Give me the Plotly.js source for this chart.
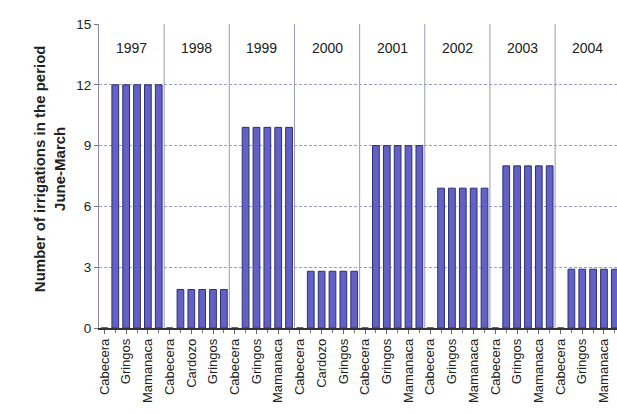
<!DOCTYPE html>
<html>
<head>
<meta charset="utf-8">
<script src="https://cdn.plot.ly/plotly-3.0.1.min.js"></script>
<style>
  html, body { margin: 0; padding: 0; background: #fff; overflow: hidden; }
  #chart { width: 617px; height: 415px; }
</style>
</head>
<body>
<div id="chart"></div>
<script>
// Irrigation seasons (June-March), one block of six site slots per season
const years = ['1997', '1998', '1999', '2000', '2001', '2002', '2003', '2004'];

// Site names printed under every second slot of each season
const siteLabels = [
  ['Cabecera', 'Gringos', 'Mamanaca'],
  ['Cabecera', 'Cardozo', 'Gringos'],
  ['Cabecera', 'Gringos', 'Mamanaca'],
  ['Cabecera', 'Cardozo', 'Gringos'],
  ['Cabecera', 'Gringos', 'Mamanaca'],
  ['Cabecera', 'Gringos', 'Mamanaca'],
  ['Cabecera', 'Gringos', 'Mamanaca'],
  ['Cabecera', 'Gringos', 'Mamanaca']
];

// Number of irrigations per slot, season by season
const irrigations = [
  [0, 12, 12, 12, 12, 12],
  [0, 1.9, 1.9, 1.9, 1.9, 1.9],
  [0, 9.9, 9.9, 9.9, 9.9, 9.9],
  [0, 2.8, 2.8, 2.8, 2.8, 2.8],
  [0, 9, 9, 9, 9, 9],
  [0, 6.9, 6.9, 6.9, 6.9, 6.9],
  [0, 8, 8, 8, 8, 8],
  [0, 2.9, 2.9, 2.9, 2.9, 2.9]
];

const yTicks = [0, 3, 6, 9, 12, 15];

// Flatten seasons into consecutive slot positions
const xs = [], ys = [], tickvals = [], ticktext = [];
let offset = 0;
const groupStarts = [], groupCenters = [];
irrigations.forEach((vals, g) => {
  groupStarts.push(offset);
  groupCenters.push(offset + (vals.length - 1) / 2);
  vals.forEach((v, i) => { xs.push(offset + i); ys.push(v); });
  siteLabels[g].forEach((name, j) => { tickvals.push(offset + 2 * j); ticktext.push(name); });
  offset += vals.length;
});

const gridColor = '#9d9dc0';
const shapes = groupStarts.slice(1).map(s => ({
  type: 'line', xref: 'x', yref: 'y',
  x0: s - 0.5, x1: s - 0.5, y0: 0, y1: 15,
  line: { color: '#9a9abb', width: 1 }
}));

const annotations = years.map((yr, g) => ({
  text: yr, x: groupCenters[g], y: 13.8, xref: 'x', yref: 'y',
  showarrow: false, font: { family: 'Liberation Sans, Arial, sans-serif', size: 14, color: '#222' }
}));
annotations.push({
  text: 'Number of irrigations in the period<br>June-March',
  xref: 'paper', yref: 'paper', x: -0.095, y: 0.525,
  xanchor: 'center', yanchor: 'middle', textangle: -90, showarrow: false,
  font: { family: 'Liberation Sans, Arial, sans-serif', size: 15, color: '#222', weight: 'bold' }
});

const trace = {
  type: 'bar', x: xs, y: ys, width: 0.62,
  marker: { color: '#6262c4', line: { color: '#2e2e78', width: 1 } },
  hoverinfo: 'x+y'
};

const layout = {
  width: 617, height: 415,
  margin: { l: 99, r: 0, t: 24, b: 87 },
  paper_bgcolor: '#fff', plot_bgcolor: '#fff',
  showlegend: false,
  bargap: 0,
  font: { family: 'Liberation Sans, Arial, sans-serif', color: '#222' },
  xaxis: {
    range: [-0.5, 47.2], showgrid: false, zeroline: false,
    tickmode: 'array', tickvals: tickvals, ticktext: ticktext,
    tickangle: -90, tickfont: { size: 13, color: '#222' },
    ticks: 'outside', ticklen: 4, tickcolor: '#666',
    minor: { ticks: 'outside', ticklen: 3, dtick: 1, tick0: 0, tickcolor: '#777', showgrid: false },
    showline: true, linecolor: '#333', linewidth: 1.5
  },
  yaxis: {
    range: [0, 15], tickmode: 'array', tickvals: yTicks,
    tickfont: { size: 13.5, color: '#222' },
    ticks: 'outside', ticklen: 4, tickcolor: '#777',
    showgrid: true, gridcolor: gridColor, griddash: '3px,2px', gridwidth: 1,
    zeroline: false, showline: true, linecolor: '#8a8ab0', linewidth: 1
  },
  shapes: shapes,
  annotations: annotations
};

Plotly.newPlot('chart', [trace], layout, { displayModeBar: false, staticPlot: true });
</script>
</body>
</html>
